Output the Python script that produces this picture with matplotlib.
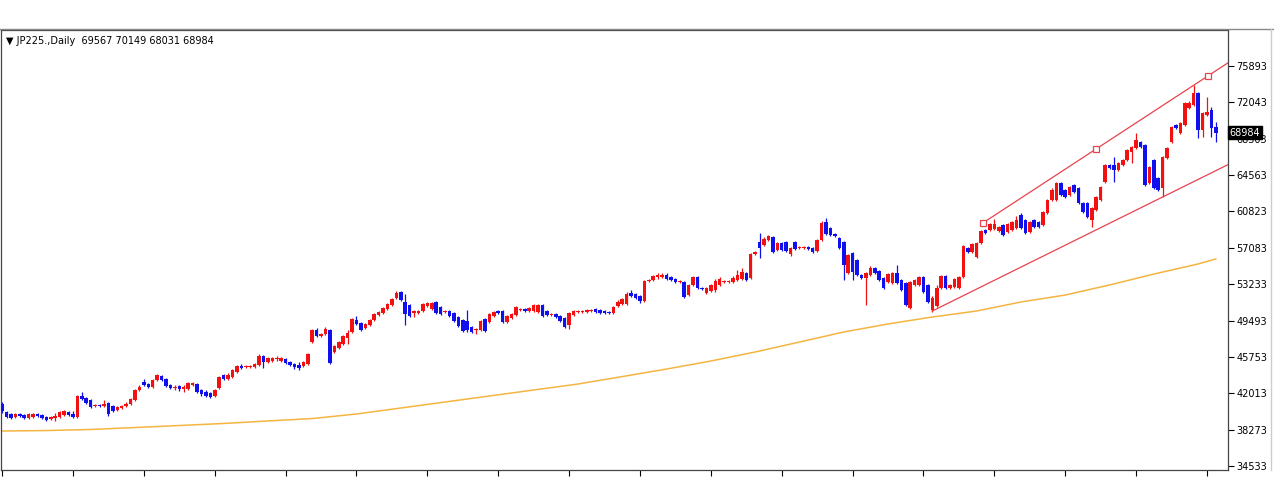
import matplotlib
matplotlib.use("Agg")
import matplotlib.pyplot as plt
import matplotlib.transforms as mtransforms
from matplotlib.lines import Line2D
import numpy as np

# ---- daily candles JP225 ----
opens = [
    40940, 40120, 39910, 39600, 39910, 39810, 39500, 39600, 39910, 39810,
    39600, 39390, 39500, 39600, 39810, 40120, 39910, 39600, 41770, 41560,
    41360, 40740, 40840, 40740, 41050, 40740, 40320, 40530, 40740, 40940,
    41360, 42390, 43220, 43010, 42700, 43430, 43840, 43530, 42910, 42600,
    42800, 42490, 42490, 42910, 43010, 42390, 42180, 42080, 41770, 42600,
    43940, 43530, 43740, 44250, 44870, 44770, 44770, 44770, 44980, 45910,
    45290, 45390, 45600, 45390, 45600, 45290, 45080, 44980, 44870, 45080,
    47350, 48600, 47980, 48180, 48600, 46320, 46730, 47150, 47770, 48390,
    49630, 49320, 48800, 49110, 49630, 50150, 50350, 50770, 51180, 51900,
    52520, 51490, 51180, 50350, 50350, 50560, 51080, 50770, 51490, 50970,
    50460, 50560, 50350, 49940, 49630, 49530, 48910, 48600, 48600, 49730,
    49420, 50040, 50560, 50560, 49420, 49840, 50150, 50660, 50770, 50560,
    50560, 50460, 51180, 50560, 50150, 50250, 50040, 49840, 49110, 50150,
    50460, 50460, 50460, 50560, 50770, 50660, 50560, 50460, 50350, 51080,
    51280, 51280, 52420, 52320, 52110, 51590, 53660, 53770, 54080, 54080,
    54280, 54080, 53870, 53560, 53560, 52210, 53250, 54080, 52940, 52420,
    52630, 52730, 53250, 53560, 53560, 53560, 53770, 53870, 54490, 53970,
    56450, 57690, 57380, 57900, 58210, 56870, 57590, 57690, 56450, 57690,
    57070, 57070, 57180, 57070, 56760, 57900, 59760, 59140, 58520, 58110,
    57690, 54490, 56560, 55830, 54280, 53970, 54280, 55010, 54700, 53970,
    53560, 53460, 54490, 53770, 53460, 50870, 53250, 53250, 54080, 53250,
    50660, 51080, 52940, 54180, 52940, 53040, 52940, 54080, 57070, 56660,
    56140, 57590, 58940, 58940, 59040, 58830, 59450, 58730, 58940, 59140,
    60490, 59970, 58730, 59970, 59760, 59450, 60690, 62040, 62040, 63800,
    63070, 62550, 63590, 63280, 61730, 61730, 59970, 61000, 62040, 63900,
    65660, 65660, 65140, 65660, 66170, 67000, 67410, 68030, 67720, 63800,
    66170, 64310, 63280, 66380, 68030, 69790, 68970, 69790, 71550, 71860,
    73100, 69280, 70830, 71340, 69567,
]
closes = [
    40220, 39600, 39500, 39910, 39700, 39500, 39910, 39910, 39700, 39500,
    39290, 39600, 39700, 40120, 40220, 39810, 39600, 41770, 41460, 41050,
    40630, 40840, 40740, 40940, 39910, 40220, 40630, 40740, 40940, 41460,
    42390, 42700, 42910, 42700, 43430, 43940, 43430, 42800, 42600, 42700,
    42490, 42700, 43120, 43120, 42180, 41980, 41770, 41670, 42390, 43740,
    43530, 43940, 44460, 44870, 44670, 44870, 44870, 45080, 45910, 45290,
    45700, 45700, 45700, 45700, 45180, 44980, 44770, 44670, 45290, 46110,
    48600, 47980, 48180, 48700, 45180, 46940, 47350, 47980, 48290, 49730,
    49220, 48600, 49220, 49630, 50250, 50460, 50870, 51280, 51800, 52420,
    51700, 50250, 50040, 50560, 50560, 51280, 51390, 51390, 50350, 50250,
    50560, 50040, 49530, 49010, 48490, 48600, 48390, 48700, 49530, 48490,
    50250, 50460, 50350, 49420, 50040, 50250, 50970, 50770, 50560, 50870,
    51180, 51180, 50040, 50150, 50250, 49940, 49530, 48910, 50350, 50560,
    50560, 50560, 50660, 50660, 50460, 50350, 50350, 50350, 50970, 51490,
    51800, 52320, 52110, 51900, 51590, 53660, 53770, 54180, 54280, 54280,
    53870, 53770, 53560, 53660, 52010, 53250, 54080, 52940, 52830, 52940,
    53250, 53660, 53870, 53660, 53660, 53970, 54280, 54590, 53770, 56450,
    56660, 57070, 58000, 58310, 56660, 57590, 56870, 56760, 57070, 56970,
    57180, 57180, 56970, 56660, 57900, 59660, 58520, 58420, 58310, 57070,
    55320, 56350, 54590, 54280, 53970, 54490, 55010, 54490, 53770, 52940,
    54390, 54490, 53460, 52730, 51180, 53560, 53770, 54080, 52520, 51490,
    51900, 52940, 54180, 52940, 53250, 53870, 54080, 57280, 56660, 57490,
    57590, 58830, 58630, 59560, 59560, 59250, 58420, 59560, 59760, 59970,
    59140, 58630, 59760, 59250, 59250, 60800, 62040, 63070, 63800, 62550,
    62350, 63380, 62860, 61730, 60800, 60280, 61210, 62350, 63380, 65660,
    65350, 65140, 65860, 66170, 67210, 67520, 68240, 67520, 63590, 65450,
    63280, 63070, 66480, 67410, 69580, 69480, 70000, 72070, 72070, 73100,
    69280, 71030, 71140, 69480, 68984,
]
highs = [
    41150, 40220, 40010, 40010, 40010, 39910, 40010, 40010, 40010, 39910,
    39700, 39700, 40010, 40220, 40320, 40220, 40220, 41870, 42180, 41670,
    41460, 40940, 40940, 41360, 41150, 40840, 40740, 40840, 41150, 41560,
    42490, 42910, 43530, 43120, 43530, 44050, 43940, 43630, 43010, 42910,
    42910, 42910, 43220, 43220, 43120, 42490, 42390, 42180, 42490, 43840,
    44050, 44150, 44560, 44980, 45080, 44980, 44980, 45180, 46110, 46010,
    45800, 45800, 45910, 45800, 45700, 45390, 45180, 45290, 45390, 46220,
    48700, 48800, 48290, 48910, 48700, 47040, 47460, 48080, 48600, 49840,
    50040, 49420, 49320, 49730, 50350, 50560, 50970, 51390, 51900, 52630,
    52630, 52320, 51280, 50660, 50660, 51390, 51490, 51490, 51590, 51080,
    50660, 50660, 50460, 50040, 49730, 50660, 49010, 48800, 49630, 49840,
    50350, 50560, 50660, 50660, 50150, 50350, 51080, 50870, 50870, 50970,
    51280, 51280, 51280, 50660, 50350, 50350, 50150, 49940, 50460, 50660,
    50660, 50660, 50770, 50770, 50870, 50770, 50660, 50560, 51080, 51700,
    51900, 52520, 52730, 52420, 52210, 53770, 53870, 54280, 54490, 54490,
    54490, 54180, 53970, 53770, 53660, 53350, 54180, 54180, 53040, 53040,
    53350, 53870, 54080, 53770, 53770, 54180, 54800, 55010, 54590, 56560,
    56760, 58630, 58210, 58420, 58310, 57690, 57690, 57800, 57180, 57800,
    57280, 57280, 57280, 57180, 58000, 59870, 60180, 59250, 58630, 58210,
    57800, 56450, 56660, 55940, 54390, 54590, 55210, 55110, 54800, 54080,
    54490, 54590, 55320, 53870, 53560, 53660, 53870, 54180, 54180, 53350,
    52110, 53250, 54280, 54280, 53350, 53970, 54180, 57380, 57180, 57590,
    57690, 58940, 59040, 59660, 60070, 59350, 59560, 59660, 59870, 60380,
    60690, 60070, 59870, 60070, 59870, 60900, 62140, 63280, 63900, 63900,
    63170, 63490, 63690, 63380, 61830, 61830, 61310, 62450, 63490, 65760,
    65760, 66480, 65970, 66280, 67310, 67620, 68970, 68140, 67830, 65550,
    66280, 64420, 66590, 67520, 69690, 69900, 70100, 72170, 72270, 73930,
    73200, 71140, 72690, 71650, 70149,
]
lows = [
    40010, 39500, 39390, 39500, 39600, 39390, 39390, 39500, 39600, 39390,
    39190, 39290, 39190, 39500, 39700, 39700, 39500, 39500, 41360, 40940,
    40530, 40630, 40630, 40630, 39700, 40120, 40220, 40430, 40630, 40840,
    41250, 42290, 42800, 42600, 42600, 43320, 43320, 42700, 42490, 42390,
    42290, 42180, 42390, 42800, 42080, 41770, 41670, 41560, 41670, 42490,
    43430, 43430, 43630, 44150, 44560, 44670, 44670, 44670, 44870, 44670,
    45180, 45290, 45390, 45290, 45080, 44870, 44560, 44460, 44770, 44980,
    47250, 47870, 47870, 48080, 45080, 46220, 46630, 47040, 47150, 48290,
    49110, 48490, 48700, 49010, 49530, 50040, 50250, 50660, 51080, 51800,
    51590, 49110, 49940, 49940, 50250, 50460, 50970, 50660, 50250, 50150,
    50350, 49940, 49420, 48910, 48390, 48390, 48290, 48180, 48490, 48390,
    49320, 49940, 50250, 49320, 49320, 49730, 50040, 50560, 50460, 50460,
    50460, 50350, 49940, 50040, 50040, 49840, 49420, 48800, 48700, 50040,
    50350, 50350, 50350, 50460, 50350, 50250, 50250, 50250, 50250, 50970,
    51180, 51180, 52010, 51800, 51390, 51490, 53560, 53660, 53870, 53970,
    53770, 53660, 53460, 53460, 51900, 52110, 53150, 52830, 52730, 52320,
    52520, 52520, 53150, 53460, 53460, 53460, 53660, 53770, 53660, 53870,
    56350, 56040, 57280, 57800, 56560, 56760, 56760, 56660, 56250, 56870,
    56970, 56970, 56870, 56560, 56660, 57800, 58420, 58310, 58210, 56970,
    53770, 54390, 53770, 54180, 53870, 51180, 54180, 54390, 53660, 52830,
    53460, 53350, 53350, 52630, 51080, 50770, 53150, 53150, 52420, 51390,
    50460, 50970, 52830, 52830, 52830, 52940, 52830, 53970, 56560, 56560,
    56040, 57490, 58520, 58830, 58940, 58730, 58310, 58630, 58830, 59040,
    59040, 58520, 58630, 59140, 59140, 59350, 60590, 61930, 61930, 62450,
    62240, 62450, 62760, 61620, 60690, 60180, 59250, 60900, 61930, 63800,
    65240, 63900, 65040, 65550, 66070, 65860, 67310, 67410, 63490, 63690,
    63170, 62970, 62350, 66280, 67930, 69380, 68860, 69690, 71450, 71760,
    68450, 68550, 70720, 68550, 68031,
]

# slow moving average (orange), read every 10 bars
ma_idx = [0, 10, 20, 30, 40, 50, 60, 70, 80, 90, 100, 110, 120, 130, 140,
          150, 160, 170, 180, 190, 200, 210, 220, 230, 240, 250, 260, 270, 274]
ma_vals = [38150, 38200, 38310, 38510, 38720, 38930, 39190, 39440, 39910, 40530,
           41150, 41770, 42390, 43010, 43780, 44560, 45390, 46320, 47350, 48390,
           49220, 49940, 50560, 51490, 52210, 53250, 54380, 55420, 55940]

# trend lines (bar index, price)
upper_idx = [221.5, 272.2]
upper_px = [59690, 74860]
lower_idx = [210, 262]
lower_px = [50560, 62350]

ytick_labels = ['34533', '38273', '42013', '45753', '49493', '53233',
                '57083', '60823', '64563', '68303', '72043', '75893']

symbol = 'JP225.,Daily'

BULL = '#f21010'
BEAR = '#1010ee'

o = np.array(opens, float)
c = np.array(closes, float)
h = np.array(highs, float)
l = np.array(lows, float)
n = len(o)
xs = np.arange(n)

fig = plt.figure(figsize=(12.74, 5.0), dpi=100, facecolor='white')
ax = fig.add_axes([1/1274, 30/500, 1227/1274, 440/500])
ax.set_facecolor('white')

up = c >= o
cols = np.where(up, BULL, BEAR)
ax.vlines(xs, l, h, colors=cols, lw=0.9, zorder=2)
body_h = np.maximum(np.abs(c - o), 150)
ax.bar(xs, body_h, bottom=np.minimum(o, c) - (body_h - np.abs(c - o)) / 2,
       width=0.8, color=cols, linewidth=0, zorder=3)

# moving average
ax.plot(ma_idx, ma_vals, color='#f4b540', lw=1.1, zorder=1)

xmin, xmax = -0.25, 276.75
ymin, ymax = 34120, 79615

# trend lines extended to right edge
for ix, px, marks in ((upper_idx, upper_px, True), (lower_idx, lower_px, False)):
    slope = (px[1] - px[0]) / (ix[1] - ix[0])
    x_end = xmax
    y_end = px[0] + slope * (x_end - ix[0])
    ax.plot([ix[0], x_end], [px[0], y_end], color='#e8434c', lw=0.9, zorder=4)
    if marks:
        mx = [ix[0], (ix[0] + ix[1]) / 2, ix[1]]
        my = [px[0], (px[0] + px[1]) / 2, px[1]]
        ax.plot(mx, my, 's', ms=4.5, mfc='white', mec='#e8434c', mew=0.9, zorder=5)

ax.set_xlim(xmin, xmax)
ax.set_ylim(ymin, ymax)

ticks = np.linspace(34533, 75893, len(ytick_labels))
ax.yaxis.tick_right()
ax.set_yticks(ticks)
ax.set_yticklabels(ytick_labels)
ax.set_xticks(np.arange(0, n, 16))
ax.set_xticklabels([])
ax.tick_params(axis='y', direction='out', length=4, width=0.8, labelsize=7,
               pad=2, colors='black')
ax.tick_params(axis='x', direction='out', length=4, width=0.8, colors='black')
for s in ax.spines.values():
    s.set_color('#444444')
    s.set_linewidth(0.9)

# last price tag (drawn over the 68303 label, as in the terminal)
trans = mtransforms.blended_transform_factory(ax.transAxes, ax.transData)
ax.text(1.0015, closes[-1], str(closes[-1]), transform=trans, ha='left',
        va='center', fontsize=7, color='white', zorder=10,
        bbox=dict(boxstyle='square,pad=0.15', fc='black', ec='black'))

# header text
ax.text(0.004, 0.987,
        '\u25bc {}  {} {} {} {}'.format(symbol, opens[-1], highs[-1], lows[-1], closes[-1]),
        transform=ax.transAxes, ha='left', va='top', fontsize=7, color='black')

# window border
fig.add_artist(Line2D([0, 1], [471/500, 471/500], color='#888888', lw=1.0))
fig.add_artist(Line2D([1271/1274, 1271/1274], [30/500, 471/500], color='#cccccc', lw=1.0))

fig.savefig('out.png', dpi=100, facecolor='white')
